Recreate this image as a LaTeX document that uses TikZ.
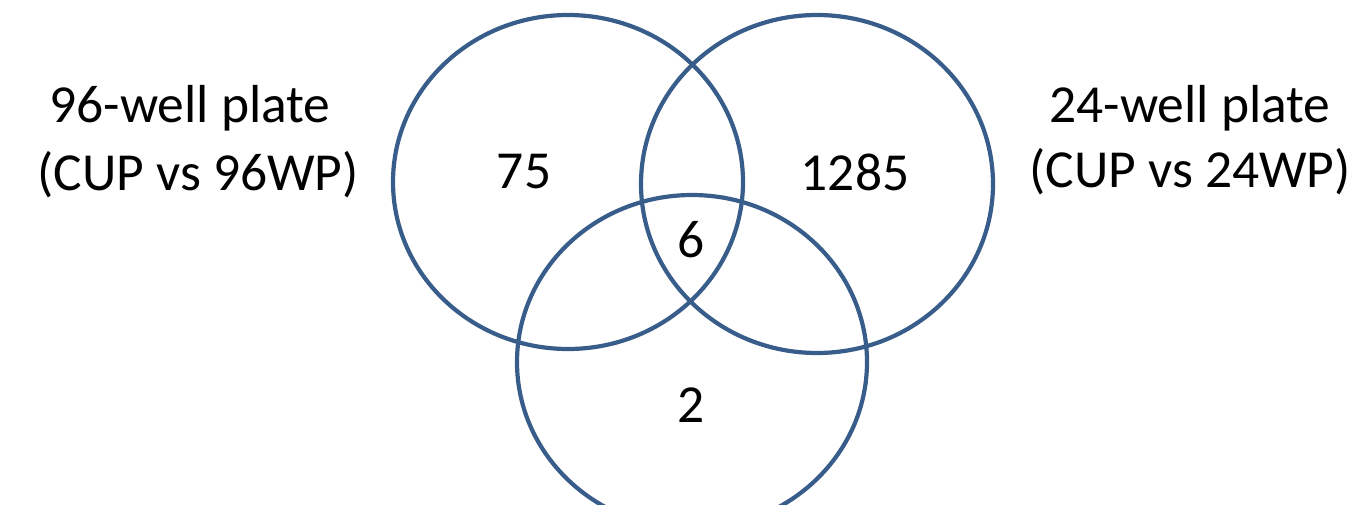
\documentclass[tikz,border=0pt]{standalone}
\usepackage{fontspec}
\setmainfont{Carlito}
\definecolor{vennblue}{HTML}{385D8A}
\begin{document}
\begin{tikzpicture}[x=1pt,y=-1pt,
  venn/.style={draw=vennblue,line width=4.2pt},
  lbl/.style={font=\fontsize{53.5}{60}\selectfont,inner sep=0pt,align=center},
  num/.style={font=\fontsize{53.5}{60}\selectfont,inner sep=0pt}]
\useasboundingbox (0,0) rectangle (1359,505);
\clip (0,0) rectangle (1359,505);
\draw[venn] (568,182) ellipse [x radius=175,y radius=167];
\draw[venn] (817,184) ellipse [x radius=176,y radius=169];
\draw[venn] (692,362) ellipse [x radius=175,y radius=167];
\node[lbl] (l1) at (190,108) {96-well plate};
\node[lbl] (l2) at (198,175) {(CUP vs 96WP)};
\node[lbl] (r1) at (1190,108) {24-well plate};
\node[lbl] (r2) at (1190,172) {(CUP vs 24WP)};
\node[num] (n75) at (524,172) {75};
\node[num] (n1285) at (855,172) {1285};
\node[num] (n6) at (691,240) {6};
\node[num] (n2) at (691,405) {2};
\end{tikzpicture}
\end{document}
